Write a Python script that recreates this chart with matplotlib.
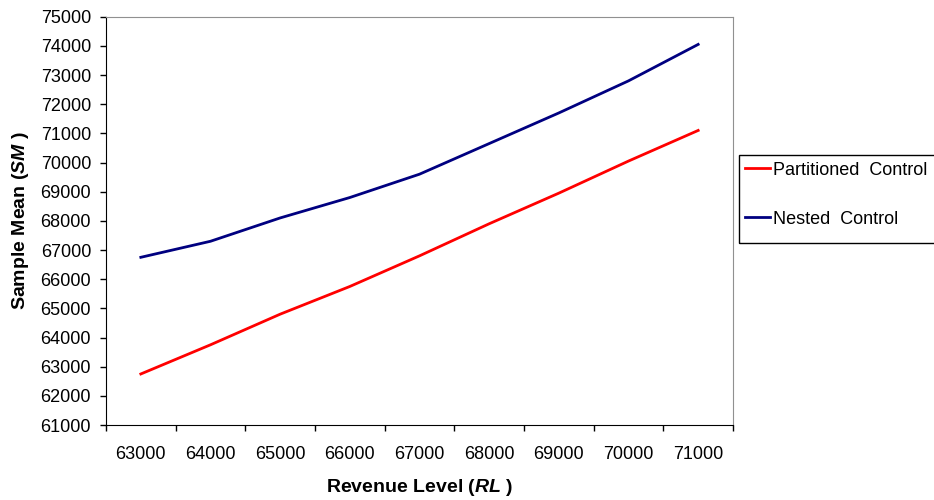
import matplotlib
matplotlib.use("Agg")
import matplotlib.pyplot as plt
from matplotlib.patches import Rectangle

# revenue levels on the category axis
revenue = [63000, 64000, 65000, 66000, 67000, 68000, 69000, 70000, 71000]
partitioned = [62750, 63750, 64800, 65750, 66800, 67900, 68950, 70050, 71100]
nested = [66750, 67300, 68100, 68800, 69600, 70650, 71700, 72800, 74050]
y_ticks = list(range(61000, 75001, 1000))

plt.rcParams["font.family"] = ["Liberation Sans", "DejaVu Sans"]
plt.rcParams["mathtext.fontset"] = "custom"
plt.rcParams["mathtext.it"] = "Liberation Sans:italic:bold"
plt.rcParams["mathtext.rm"] = "Liberation Sans:bold"

fig = plt.figure(figsize=(9.34, 5.0), dpi=100)
ax = fig.add_axes([106 / 934, 1 - 425 / 500, (733 - 106) / 934, (425 - 16.7) / 500])

pos = list(range(len(revenue)))
ax.plot(pos, partitioned, color="#ff0000", lw=2.0, label="Partitioned  Control")
ax.plot(pos, nested, color="#000080", lw=2.0, label="Nested  Control")

ax.set_xlim(-0.5, len(revenue) - 0.5)
ax.set_ylim(61000, 75000)
ax.set_yticks(y_ticks)
ax.set_yticklabels([str(v) for v in y_ticks])

# category labels centred, tick marks between categories
ax.set_xticks(pos)
ax.set_xticklabels([str(v) for v in revenue])
ax.set_xticks([p - 0.5 for p in pos] + [len(pos) - 0.5], minor=True)
ax.tick_params(axis="x", which="major", length=0, pad=15, labelsize=13)
ax.tick_params(axis="x", which="minor", length=4.3, width=1, direction="out")
ax.tick_params(axis="y", length=4.3, width=1, pad=6.5, labelsize=13)

for s in ("left", "bottom"):
    ax.spines[s].set_color("black")
for s in ("top", "right"):
    ax.spines[s].set_color("#909090")

ax.set_xlabel(r"Revenue Level ($RL$ )", fontsize=14, fontweight="bold", labelpad=10.5)
ax.set_ylabel(r"Sample Mean ($SM$ )", fontsize=14, fontweight="bold", labelpad=6.5)

# legend box sits at the right edge, partly cut off
fig.patches.append(Rectangle((739 / 934, 1 - 242.7 / 500), 0.3, (242.7 - 155) / 500,
                             transform=fig.transFigure, fill=False,
                             edgecolor="black", lw=1))
fig.legend(loc="upper left", bbox_to_anchor=(731 / 934, 1 - 148 / 500),
           frameon=False, fontsize=13, handlelength=1.4, handletextpad=0.2,
           labelspacing=1.77, borderpad=0.25)

fig.savefig("out.png", dpi=100)
